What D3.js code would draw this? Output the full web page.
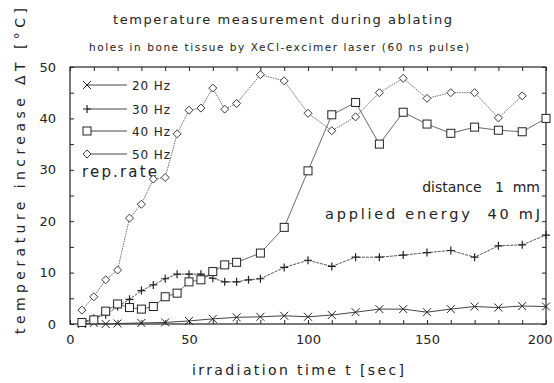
<!DOCTYPE html>
<html><head><meta charset="utf-8">
<script src="https://cdn.jsdelivr.net/npm/d3@7"></script>
<style>body{margin:0;background:#fff}svg text{font-family:"DejaVu Sans",sans-serif;fill:#222}</style>
</head><body>
<svg id="c" width="554" height="383"></svg>
<script>
const title = "temperature measurement during ablating";
const subtitle = "holes in bone tissue by XeCl-excimer laser (60 ns pulse)";
const xLabel = "irradiation time t [sec]";
const yLabel = "temperature increase \u0394T [\u00B0C]";
const xTicks = [0, 50, 100, 150, 200];
const yTicks = [0, 10, 20, 30, 40, 50];
const seriesNames = ["20 Hz", "30 Hz", "40 Hz", "50 Hz"];

const t20 = [5,10,15,20,30,40,50,60,70,80,90,100,110,120,130,140,150,160,170,180,190,200];
const v20 = [0,0.2,0,0.1,0.2,0.3,0.6,1.0,1.3,1.4,1.6,1.4,1.75,2.3,2.9,2.9,2.3,2.9,3.4,3.2,3.5,3.4];

const t30 = [5,10,15,20,25,30,35,40,45,50,55,60,65,70,75,80,90,100,110,120,130,140,150,160,170,180,190,200];
const v30 = [0.3,1.1,1.8,3.4,4.8,6.5,7.6,8.8,9.7,9.7,9.7,8.9,8.2,8.2,8.6,8.8,11.0,12.4,11.2,13.0,13.0,13.4,13.9,14.3,13.0,15.2,15.4,17.3];

const t40 = [5,10,15,20,25,30,35,40,45,50,55,60,65,70,80,90,100,110,120,130,140,150,160,170,180,190,200];
const v40 = [0.3,0.8,2.5,3.9,3.2,2.9,3.4,5.3,6.0,8.2,8.6,10.2,11.5,12.0,13.8,18.8,29.8,40.7,43.1,35.0,41.2,38.9,37.1,38.3,37.7,37.4,40.0];

const t50 = [5,10,15,20,25,30,35,40,45,50,55,60,65,70,80,90,100,110,120,130,140,150,160,170,180,190];
const v50 = [2.7,5.3,8.6,10.5,20.6,23.3,28.2,28.5,37.0,41.6,42.0,45.9,41.8,42.9,48.5,47.3,41.0,37.6,40.3,45.0,47.8,43.9,45.0,45.0,40.1,44.4];

const svg = d3.select("#c");
const L = 70, R = 546, T = 67, B = 324;
const x = d3.scaleLinear().domain([0, 200]).range([L, R]);
const y = d3.scaleLinear().domain([0, 50]).range([B, T]);
const ink = "#222";

// frame
svg.append("rect").attr("x", L).attr("y", T).attr("width", R - L).attr("height", B - T)
  .attr("fill", "none").attr("stroke", ink).attr("stroke-width", 1.2);

// axes (ticks inward)
const gB = svg.append("g").attr("transform", `translate(0,${B})`)
  .call(d3.axisTop(x).tickValues(d3.range(0, 201, 10)).tickSize(4).tickFormat(""));
const gT = svg.append("g").attr("transform", `translate(0,${T})`)
  .call(d3.axisBottom(x).tickValues(d3.range(0, 201, 10)).tickSize(4).tickFormat(""));
const gL = svg.append("g").attr("transform", `translate(${L},0)`)
  .call(d3.axisRight(y).tickValues(d3.range(0, 51, 5)).tickSize(4).tickFormat(""));
const gR = svg.append("g").attr("transform", `translate(${R},0)`)
  .call(d3.axisLeft(y).tickValues(d3.range(0, 51, 5)).tickSize(4).tickFormat(""));
[gB, gT, gL, gR].forEach(g => { g.select(".domain").remove(); g.selectAll("line").attr("stroke", ink); });

// tick labels
const gxl = svg.append("g").attr("transform", `translate(0,${B + 8})`)
  .call(d3.axisBottom(x).tickValues(xTicks).tickSize(0).tickFormat(d3.format("d")));
gxl.select(".domain").remove();
gxl.selectAll("text").attr("font-size", 13).attr("fill", ink).style("font-family", "DejaVu Sans")
  .filter(d => d === 200).attr("text-anchor", "end").attr("dx", 6);
const gyl = svg.append("g").attr("transform", `translate(${L - 11},0)`)
  .call(d3.axisLeft(y).tickValues(yTicks).tickSize(0).tickFormat(d3.format("d")));
gyl.select(".domain").remove();
gyl.selectAll("text").attr("font-size", 13).attr("fill", ink).style("font-family", "DejaVu Sans");

// titles
svg.append("text").attr("x", 113).attr("y", 24).attr("font-size", 13)
  .attr("textLength", 339).attr("lengthAdjust", "spacing").text(title);
svg.append("text").attr("x", 89).attr("y", 51).attr("font-size", 10.5)
  .attr("textLength", 380).attr("lengthAdjust", "spacing").text(subtitle);
svg.append("text").attr("x", 192).attr("y", 375).attr("font-size", 14)
  .attr("textLength", 212).attr("lengthAdjust", "spacing").text(xLabel);
svg.append("text").attr("transform", "translate(25,334) rotate(-90)").attr("font-size", 14)
  .attr("textLength", 326).attr("lengthAdjust", "spacing").text(yLabel);

// annotations
svg.append("text").attr("x", 540).attr("y", 192).attr("font-size", 14).attr("text-anchor", "end")
  .style("white-space", "pre").text("distance   1  mm");
svg.append("text").attr("x", 540).attr("y", 219).attr("font-size", 14.5).attr("text-anchor", "end")
  .style("white-space", "pre")
  .attr("textLength", 215).attr("lengthAdjust", "spacing").text("applied energy  40 mJ");
svg.append("text").attr("x", 82).attr("y", 177).attr("font-size", 15)
  .attr("textLength", 75).attr("lengthAdjust", "spacing").text("rep.rate");

// markers
function marker(g, type, cx, cy) {
  const s = 4;
  if (type === "x") {
    g.append("path").attr("d", `M${cx-s},${cy-s}L${cx+s},${cy+s}M${cx-s},${cy+s}L${cx+s},${cy-s}`)
      .attr("stroke", ink).attr("stroke-width", 1).attr("fill", "none");
  } else if (type === "plus") {
    g.append("path").attr("d", `M${cx-s},${cy}L${cx+s},${cy}M${cx},${cy-s}L${cx},${cy+s}`)
      .attr("stroke", ink).attr("stroke-width", 1.2).attr("fill", "none");
  } else if (type === "square") {
    g.append("rect").attr("x", cx - s).attr("y", cy - s).attr("width", 2 * s).attr("height", 2 * s)
      .attr("stroke", ink).attr("stroke-width", 1).attr("fill", "#fff");
  } else {
    g.append("path").attr("d", `M${cx},${cy-s}L${cx+s},${cy}L${cx},${cy+s}L${cx-s},${cy}Z`)
      .attr("stroke", ink).attr("stroke-width", 0.9).attr("fill", "#fff");
  }
}

const series = [
  {t: t20, v: v20, m: "x", dash: null, w: 1},
  {t: t30, v: v30, m: "plus", dash: "3,1", w: 0.9},
  {t: t40, v: v40, m: "square", dash: null, w: 0.8},
  {t: t50, v: v50, m: "diamond", dash: "1.5,1", w: 0.8}
];
const line = d3.line().x(d => x(d[0])).y(d => y(d[1]));
series.forEach(s => {
  const pts = s.t.map((t, i) => [t, s.v[i]]);
  svg.append("path").attr("d", line(pts)).attr("fill", "none").attr("stroke", "#444")
    .attr("stroke-width", s.w).attr("stroke-dasharray", s.dash);
});
series.forEach(s => {
  const g = svg.append("g");
  s.t.forEach((t, i) => marker(g, s.m, x(t), y(s.v[i])));
});

// legend
const legY = [85, 109, 131, 154];
series.forEach((s, i) => {
  const g = svg.append("g");
  g.append("line").attr("x1", 87).attr("x2", 127).attr("y1", legY[i]).attr("y2", legY[i])
    .attr("stroke", "#444").attr("stroke-width", 1);
  marker(g, s.m, 87, legY[i]);
  g.append("text").attr("x", 132).attr("y", legY[i] + 4.5).attr("font-size", 12)
    .attr("textLength", 38).attr("lengthAdjust", "spacing").text(seriesNames[i]);
});
</script>
</body></html>
